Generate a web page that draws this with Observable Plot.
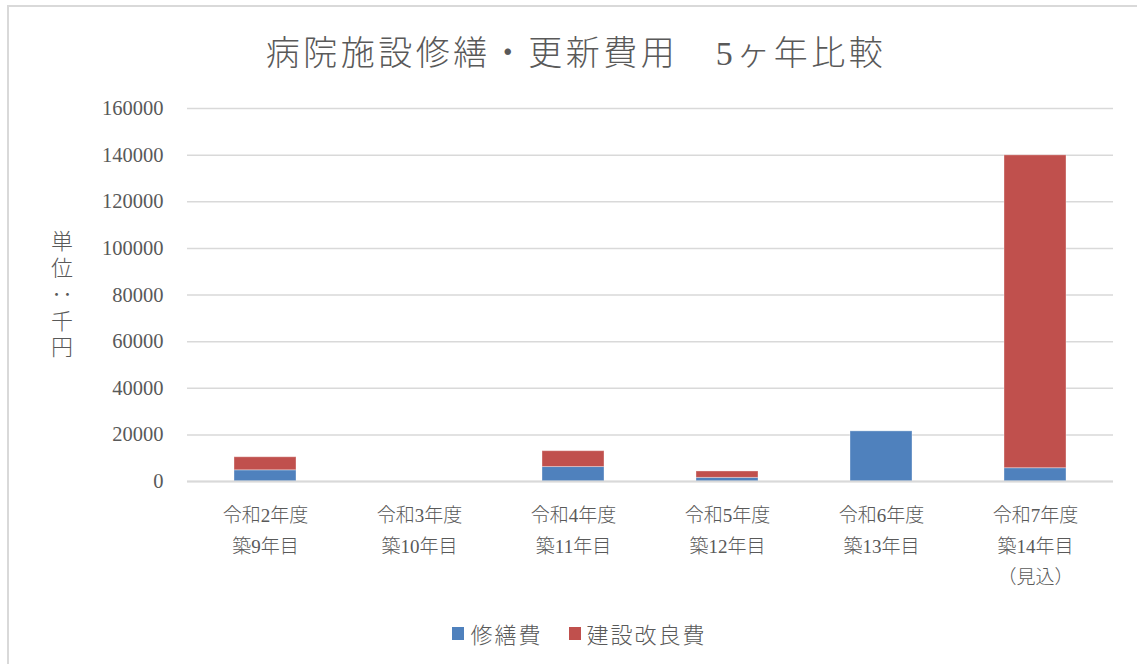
<!DOCTYPE html>
<html><head><meta charset="utf-8">
<script src="https://cdn.jsdelivr.net/npm/d3@7"></script>
<script src="https://cdn.jsdelivr.net/npm/@observablehq/plot@0.6"></script>
<style>
body{margin:0;background:#fff;}
#wrap{position:relative;width:1137px;height:664px;overflow:hidden;background:#fff;font-family:"Liberation Serif","Noto Sans CJK JP",serif;color:#595959;}
#frame{position:absolute;left:7px;top:5px;width:1200px;height:700px;border-left:2px solid #d9d9d9;border-top:2px solid #d9d9d9;}
#title{position:absolute;left:0;width:1152px;top:26px;text-align:center;font-size:34px;letter-spacing:3.5px;font-weight:300;white-space:pre;}
#ylab{position:absolute;left:48px;top:230px;writing-mode:vertical-rl;font-size:22px;letter-spacing:4.5px;font-weight:300;line-height:1;}
#chart{position:absolute;left:0;top:0;}
#legend{position:absolute;left:0;top:617px;width:1137px;display:flex;justify-content:center;align-items:center;font-size:22px;letter-spacing:2px;font-weight:300;padding-left:22px;box-sizing:border-box;}
.item{display:flex;align-items:center;margin:0 13px;}
.sw{width:12px;height:13px;margin-right:6px;}
</style>
</head><body>
<div id="wrap">
  <div id="frame"></div>
  <div id="title"></div>
  <div id="ylab"></div>
  <div id="chart"></div>
  <div id="legend"></div>
</div>
<script>
const titleText = "病院施設修繕・更新費用　5ヶ年比較";
const yLabel = "単位：千円";
const categories = [
  "令和2年度\n築9年目",
  "令和3年度\n築10年目",
  "令和4年度\n築11年目",
  "令和5年度\n築12年目",
  "令和6年度\n築13年目",
  "令和7年度\n築14年目\n（見込）"
];
const series = ["修繕費", "建設改良費"];
const colors = ["#4F81BD", "#C0504D"];
const repair = [4800, 0, 6200, 1550, 21500, 5700];
const improvement = [5600, 0, 6800, 2750, 0, 134200];
const yTicks = [0, 20000, 40000, 60000, 80000, 100000, 120000, 140000, 160000];

const data = [];
categories.forEach((c, i) => {
  data.push({cat: c, series: series[0], value: repair[i]});
  data.push({cat: c, series: series[1], value: improvement[i]});
});

document.getElementById("title").textContent = titleText;
document.getElementById("ylab").textContent = yLabel;

const legend = document.getElementById("legend");
series.forEach((s, i) => {
  const it = document.createElement("div");
  it.className = "item";
  const sw = document.createElement("div");
  sw.className = "sw";
  sw.style.background = colors[i];
  const t = document.createElement("span");
  t.textContent = s;
  it.appendChild(sw); it.appendChild(t);
  legend.appendChild(it);
});

const chart = Plot.plot({
  width: 1137,
  height: 664,
  marginTop: 108,
  marginBottom: 183,
  marginLeft: 187,
  marginRight: 24,
  style: {fontFamily: '"Liberation Serif","Noto Sans CJK JP",serif', color: "#595959", background: "transparent", overflow: "visible"},
  x: {domain: categories, paddingInner: 0.6, paddingOuter: 0.3, label: null},
  y: {domain: [0, 160000], label: null},
  color: {domain: series, range: colors},
  marks: [
    Plot.gridY(yTicks, {stroke: "#d9d9d9", strokeOpacity: 1, strokeWidth: 1.5}),
    Plot.axisY(yTicks, {tickSize: 0, tickPadding: 24, fontSize: 20.5, label: null, tickFormat: d => String(d)}),
    Plot.axisX({tickSize: 0, tickPadding: 19, fontSize: 19, fontWeight: 300, lineHeight: 1.63, label: null}),
    Plot.barY(data, {x: "cat", y: "value", fill: "series", stroke: "#ffffff", strokeOpacity: 0.35, strokeWidth: 1}),
    Plot.ruleY([0], {stroke: "#d9d9d9", strokeWidth: 2})
  ]
});
document.getElementById("chart").appendChild(chart);
</script>
</body></html>
